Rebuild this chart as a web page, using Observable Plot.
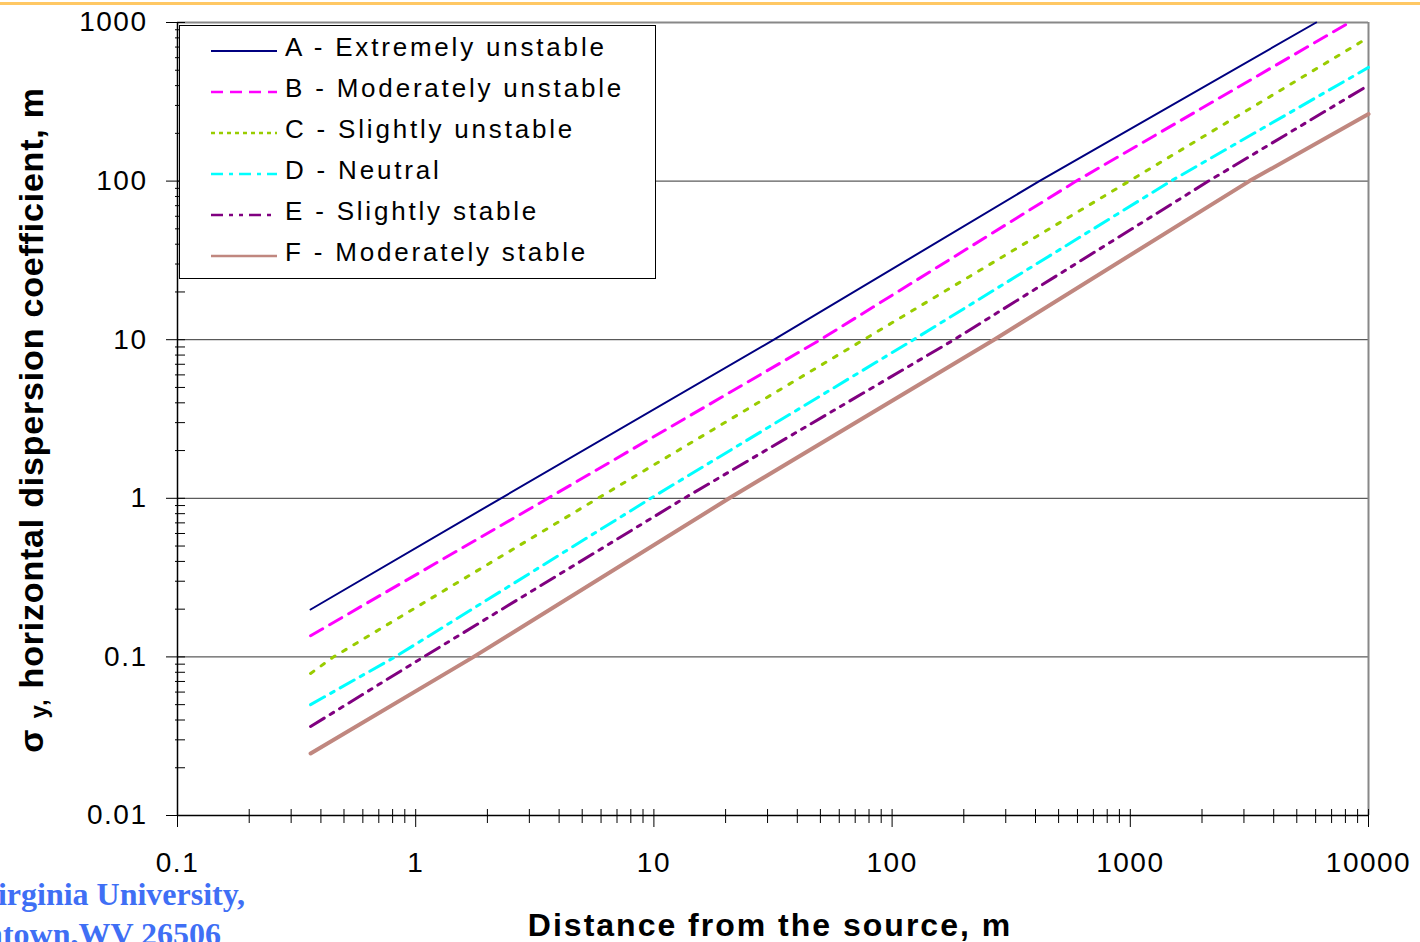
<!DOCTYPE html>
<html>
<head>
<meta charset="utf-8">
<script src="https://cdn.jsdelivr.net/npm/d3@7"></script>
<script src="https://cdn.jsdelivr.net/npm/@observablehq/plot@0.6"></script>
<style>
  html, body { margin: 0; padding: 0; background: #fff; }
  body { width: 1420px; height: 942px; overflow: hidden; position: relative; }
  #topline { position: absolute; left: 0; top: 2px; width: 1420px; height: 3px; background: #FFC864; }
  #chart { position: absolute; left: 0; top: 0; }
  #overlay { position: absolute; left: 0; top: 0; pointer-events: none; }
</style>
</head>
<body>
<div id="topline"></div>
<div id="chart"></div>
<script>
// ---- data ----
const classNames = [
  "A - Extremely unstable",
  "B - Moderately unstable",
  "C - Slightly unstable",
  "D - Neutral",
  "E - Slightly stable",
  "F - Moderately stable"
];
const distA = [0.362, 2.28, 31.9, 415, 6030];
const sigmaA = [0.199, 1, 10, 100, 1000];
const distB = [0.362, 3.59, 50, 593, 8318];
const sigmaB = [0.136, 1, 10, 100, 1000];
const distC = [0.362, 0.452, 5.82, 76, 990, 10000];
const sigmaC = [0.0786, 0.1, 1, 10, 100, 805];
const distD = [0.362, 0.82, 9.7, 123, 1480, 10000];
const sigmaD = [0.05, 0.1, 1, 10, 100, 521];
const distE = [0.362, 1.08, 13.4, 182, 2130, 10000];
const sigmaE = [0.0364, 0.1, 1, 10, 100, 402];
const distF = [0.362, 1.75, 20.7, 268, 3160, 10000];
const sigmaF = [0.0246, 0.1, 1, 10, 100, 265];

const xMajor = [0.1, 1, 10, 100, 1000, 10000];
const xTickLabels = ["0.1", "1", "10", "100", "1000", "10000"];
const yMajor = [0.01, 0.1, 1, 10, 100, 1000];
const yTickLabels = ["0.01", "0.1", "1", "10", "100", "1000"];
const xTitle = "Distance from the source, m";
const yTitleSymbol = "σ";
const yTitleSub = "y";
const yTitleRest = ", horizontal dispersion coefficient, m";
const footerLines = ["irginia University,", "ntown,WV 26506"];

// ---- styles ----
const lineColors = ["#000080", "#FF00FF", "#99CC00", "#00FFFF", "#800080", "#C0877F"];
const lineWidths = [2, 3, 3, 3, 3, 4];
const lineDashes = [null, "14,8", "4,9", "16,7,4,7", "16,7,4,7,4,7", null];
const legendWidths = [2, 2.5, 2.5, 2.5, 2.5, 2.5];
const legendDashes = [null, "12,7", "4,4", "12,6,4,6", "12,6,4,6,4,6", null];

const dists = [distA, distB, distC, distD, distE, distF];
const sigmas = [sigmaA, sigmaB, sigmaC, sigmaD, sigmaE, sigmaF];
const lineData = dists.flatMap((ds, k) => ds.map((d, i) => ({cls: k, x: d, y: sigmas[k][i]})));

const minorX = d3.scaleLog().domain([0.1, 10000]).ticks().filter(v => !xMajor.some(m => Math.abs(m - v) < 1e-12 * m));
const minorY = d3.scaleLog().domain([0.01, 1000]).ticks().filter(v => !yMajor.some(m => Math.abs(m - v) < 1e-12 * m));

const plot = Plot.plot({
  width: 1420,
  height: 942,
  marginLeft: 177,
  marginRight: 52,
  marginTop: 22,
  marginBottom: 127,
  x: {type: "log", domain: [0.1, 10000]},
  y: {type: "log", domain: [0.01, 1000]},
  style: {
    fontFamily: "'Liberation Sans', Arial, sans-serif",
    fontSize: "28px",
    letterSpacing: "1.5px",
    background: "transparent",
    color: "black",
    overflow: "visible"
  },
  marks: [
    Plot.ruleY([0.1, 1, 10, 100], {stroke: "#333", strokeWidth: 1}),
    Plot.ruleY([1000], {stroke: "#888", strokeWidth: 2}),
    Plot.ruleX([10000], {stroke: "#888", strokeWidth: 2}),
    ...classNames.map((n, k) => Plot.line(lineData.filter(d => d.cls === k), {
      x: "x", y: "y",
      stroke: lineColors[k],
      strokeWidth: lineWidths[k],
      strokeDasharray: lineDashes[k]
    })),
    Plot.ruleX([0.1], {stroke: "black", strokeWidth: 1.5}),
    Plot.ruleY([0.01], {stroke: "black", strokeWidth: 1.5}),
    Plot.axisY({ticks: minorY, tickSize: 10, dx: 8, fill: "none", label: null, stroke: "black"}),
    Plot.axisY({ticks: yMajor, tickSize: 19, dx: 8, fill: "none", label: null, stroke: "black"}),
    Plot.axisY({ticks: yMajor, tickSize: 0, tickPadding: 30, label: null,
      tickFormat: d => yTickLabels[yMajor.findIndex(m => Math.abs(m - d) < 1e-9 * m)]}),
    Plot.axisX({ticks: minorX, tickSize: 14, dy: -6, fill: "none", label: null, stroke: "black"}),
    Plot.axisX({ticks: xMajor, tickSize: 18, dy: -6, fill: "none", label: null, stroke: "black"}),
    Plot.axisX({ticks: xMajor, tickSize: 0, tickPadding: 37, label: null,
      tickFormat: d => xTickLabels[xMajor.findIndex(m => Math.abs(m - d) < 1e-9 * m)]})
  ]
});
document.getElementById("chart").appendChild(plot);

// ---- overlay: legend, titles, footer ----
const ov = d3.select("body").append("svg")
  .attr("id", "overlay")
  .attr("width", 1420).attr("height", 942);

const lg = ov.append("g");
lg.append("rect").attr("x", 179.5).attr("y", 25.5).attr("width", 476).attr("height", 253)
  .attr("fill", "white").attr("stroke", "black").attr("stroke-width", 1);
classNames.forEach((name, k) => {
  const base = 56 + k * 41;
  lg.append("line").attr("x1", 211).attr("x2", 277).attr("y1", base - 5).attr("y2", base - 5)
    .attr("stroke", lineColors[k]).attr("stroke-width", legendWidths[k])
    .attr("stroke-dasharray", legendDashes[k]);
  lg.append("text").attr("x", 285).attr("y", base)
    .attr("font-family", "'Liberation Sans', Arial, sans-serif").attr("font-size", 26)
    .attr("letter-spacing", "2.8px").attr("fill", "black").text(name);
});

ov.append("text").attr("x", 770).attr("y", 936).attr("text-anchor", "middle")
  .attr("font-family", "'Liberation Sans', Arial, sans-serif").attr("font-size", 32)
  .attr("font-weight", "bold").attr("letter-spacing", "2px").attr("fill", "black")
  .text(xTitle);

const yt = ov.append("text").attr("transform", "translate(43,420) rotate(-90)")
  .attr("text-anchor", "middle")
  .attr("font-family", "'Liberation Sans', Arial, sans-serif").attr("font-size", 34)
  .attr("font-weight", "bold").attr("letter-spacing", "0.8px").attr("fill", "black");
yt.append("tspan").text(yTitleSymbol + " ");
yt.append("tspan").attr("font-size", 24).attr("dy", 4).text(yTitleSub + ",");
yt.append("tspan").attr("dy", -4).text(yTitleRest.slice(1));

footerLines.forEach((t, i) => {
  ov.append("text").attr("x", i === 0 ? 245 : 221).attr("y", 905 + i * 40).attr("text-anchor", "end")
    .attr("font-family", "'Liberation Serif', 'Times New Roman', serif").attr("font-size", 32)
    .attr("font-weight", "bold").attr("fill", "#3F6FF5").text(t);
});
</script>
</body>
</html>
